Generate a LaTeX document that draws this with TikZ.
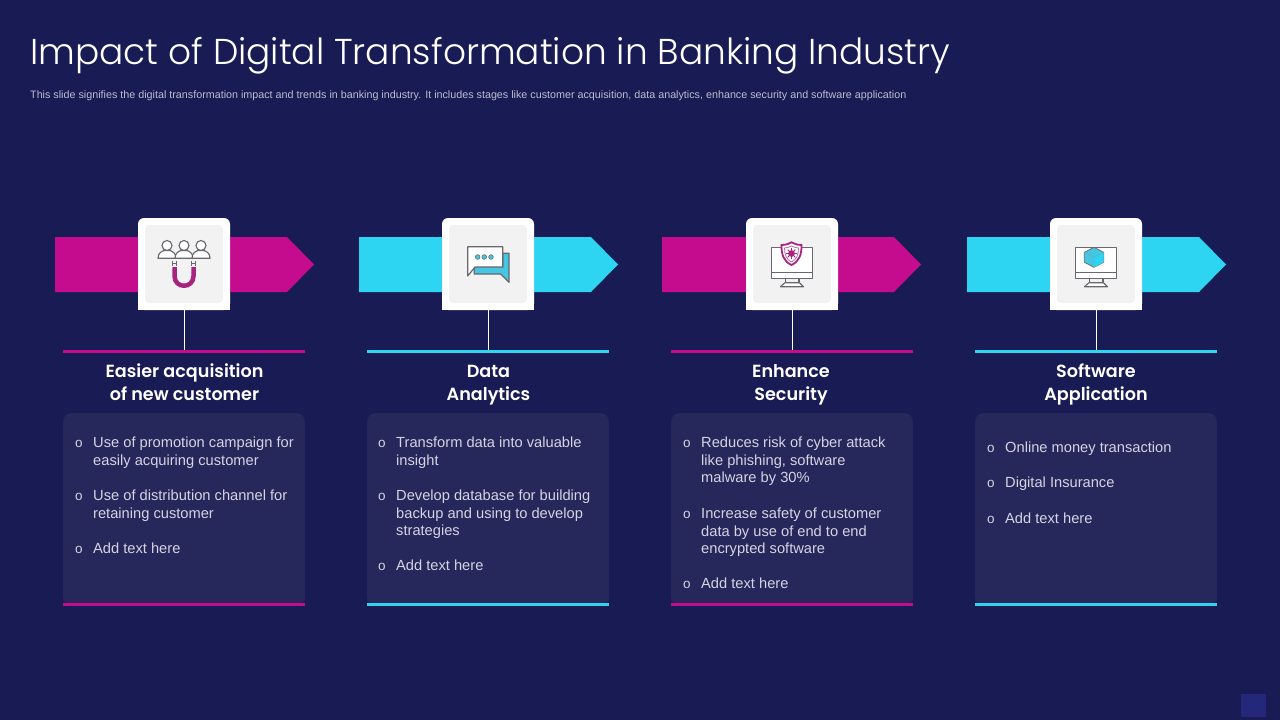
\documentclass[tikz,border=0pt]{standalone}
\usepackage{fontspec}
\setmainfont{Liberation Sans}
\newfontfamily\titlefont{Poppins Light}
\newfontfamily\headfont{Poppins SemiBold}
\usetikzlibrary{calc}
\definecolor{bg}{HTML}{181B54}
\definecolor{panel}{HTML}{26275A}
\definecolor{pink}{HTML}{C60C8E}
\definecolor{cyan}{HTML}{2DD5F2}
\definecolor{cyanicon}{HTML}{45C6E2}
\definecolor{gline}{HTML}{68686E}
\definecolor{mag}{HTML}{A6247F}
\definecolor{bodytxt}{HTML}{D4D4E3}
\definecolor{subtxt}{HTML}{BDBDD0}
\definecolor{corner}{HTML}{25277A}
\tikzset{
  cardbox/.style={fill=white,rounded corners=6pt,minimum width=92pt,minimum height=92pt,inner sep=0pt},
  innerbox/.style={fill=black!5,rounded corners=4pt,minimum width=78pt,minimum height=78pt,inner sep=0pt},
  rulebar/.style={minimum width=242pt,minimum height=3pt,inner sep=0pt},
  panelbox/.style={fill=panel,rounded corners=9pt,minimum width=242pt,minimum height=193pt,inner sep=0pt},
  heading/.style={font=\headfont\fontsize{17.6}{23}\selectfont,text=white,align=center,inner sep=0pt,anchor=north},
  bodytext/.style={font=\fontsize{14.67}{17.85}\selectfont,text=bodytxt,align=left,inner sep=0pt,anchor=north west},
  bulletmark/.style={font=\fontsize{13.5}{15}\selectfont,text=bodytxt,inner sep=0pt,anchor=base west},
  icon/.style={draw=gline,line width=1.15pt,line join=round},
}
\newcommand{\colbase}[4]{% id, card offset, arrow left, colour
  \fill[#4] (#3,237) -- (#3+232,237) -- (#3+259,264.5) -- (#3+232,292) -- (#3,292) -- cycle;
  \node[cardbox] (card#1) at (184+#2,264) {};
  \fill[white] (138+#2,264) rectangle (230+#2,310);
  \node[innerbox] (inner#1) at (184+#2,264) {};
  \node[rulebar,fill=#4] (rule#1) at (184+#2,351.5) {};
  \draw[white,line width=.8pt] (card#1.south) -- (rule#1.north);
  \node[panelbox] (panel#1) at (184+#2,509.5) {};
  \fill[#4] (63+#2,603) rectangle (305+#2,606);
}
\newcommand{\itm}[5]{% id, bullet x, text x, baseline, text
  \node[bulletmark] (b#1) at (#2,#4) {o};
  \node[bodytext] (t#1) at (#3,#4-11) {\rule{0pt}{11pt}#5};
}
\begin{document}
\begin{tikzpicture}[x=1pt,y=-1pt]
\useasboundingbox (0,0) rectangle (1280,720);
\fill[bg] (0,0) rectangle (1280,720);
\node[font=\titlefont\fontsize{35.95}{40}\selectfont,text=white,anchor=base west,inner sep=0pt] (title) at (30,64) {Impact of Digital Transformation in Banking Industry};
\node[font=\fontsize{10.75}{12}\selectfont,text=subtxt,anchor=base west,inner sep=0pt] (subtitle) at (30,98) {This slide signifies the digital transformation impact and trends in banking industry. It includes stages like customer acquisition, data analytics, enhance security and software application};
\fill[corner] (1241,694) rectangle (1266,717);

\colbase{1}{0}{55}{pink}
\colbase{2}{304}{359}{cyan}
\colbase{3}{608}{662}{pink}
\colbase{4}{912}{967}{cyan}

\node[heading] (h1) at (184.5,361) {\rule{0pt}{16pt}Easier acquisition\\of new customer};
\node[heading] (h2) at (488.5,361) {\rule{0pt}{16pt}Data\\Analytics};
\node[heading] (h3) at (791,361) {\rule{0pt}{16pt}Enhance\\Security};
\node[heading] (h4) at (1096,361) {\rule{0pt}{16pt}Software\\Application};

\itm{a}{75}{93}{447}{Use of promotion campaign for\\easily acquiring customer}
\itm{b}{75}{93}{500}{Use of distribution channel for\\retaining customer}
\itm{c}{75}{93}{553}{Add text here}
\itm{d}{378}{396}{447}{Transform data into valuable\\insight}
\itm{e}{378}{396}{500}{Develop database for building\\backup and using to develop\\strategies}
\itm{f}{378}{396}{570}{Add text here}
\itm{g}{683}{701}{447}{Reduces risk of cyber attack\\like phishing, software\\malware by 30\%}
\itm{h}{683}{701}{518}{Increase safety of customer\\data by use of end to end\\encrypted software}
\itm{i}{683}{701}{588}{Add text here}
\itm{j}{987}{1005}{452}{Online money transaction}
\itm{k}{987}{1005}{487}{Digital Insurance}
\itm{l}{987}{1005}{523}{Add text here}

% icon 1: people and magnet
\foreach \cx in {167,184,201}{
  \draw[icon,fill=white] (\cx-9,258.3) .. controls (\cx-9,252.5) and (\cx-5,251.5) .. (\cx-3,250.5) -- (\cx+3,250.5) .. controls (\cx+5,251.5) and (\cx+9,252.5) .. (\cx+9,258.3) -- cycle;
  \draw[icon,fill=white] (\cx,245.5) circle (5);
}
\draw[mag,line width=4.5pt] (174.5,267) -- (174.5,276) .. controls (174.5,289) and (193.5,289) .. (193.5,276) -- (193.5,267);
\draw[gline,line width=.8pt] (172.5,260.5) -- (172.5,266) (176.5,260.5) -- (176.5,266) (191.5,260.5) -- (191.5,266) (195.5,260.5) -- (195.5,266) (172,263) -- (177,263) (191,263) -- (196,263);

% icon 2: chat bubbles
\draw[icon,fill=cyanicon,line width=1.2pt] (474.3,266.7) -- (474.3,274) -- (500.7,274) -- (509,282.3) -- (509,253.3) -- (502.7,253.3) -- (502.7,266.7) -- cycle;
\draw[icon,fill=white,line width=1.2pt] (467.7,246.7) -- (502.7,246.7) -- (502.7,267) -- (475,267) -- (467.7,276) -- cycle;
\foreach \cx in {477.7,484.3,491}{\draw[gline,fill=cyanicon,line width=.6pt] (\cx,257) circle (2.3);}

% icons 3, 4: monitors
\foreach \ox in {0,304}{
  \begin{scope}[xshift=\ox pt]
  \draw[icon,fill=white] (771.3,247.3) rectangle (812.7,278.3);
  \draw[icon] (771.3,272.7) -- (812.7,272.7);
  \draw[icon] (785.7,278.3) -- (785.7,282.7) (799,278.3) -- (799,282.7);
  \draw[icon,fill=white] (785,282.7) -- (799.5,282.7) -- (803.5,286.7) -- (780.5,286.7) -- cycle;
  \end{scope}
}
% shield with virus
\draw[mag,fill=white,line width=1.8pt] (791.5,242.3) .. controls (786,245) and (784,245) .. (781.5,245) .. controls (781.3,255) and (784,261.5) .. (791.5,265) .. controls (799,261.5) and (801.7,255) .. (801.5,245) .. controls (799,245) and (797,245) .. (791.5,242.3) -- cycle;
\draw[mag!70!white,line width=.8pt] (791.5,246) .. controls (788,247.5) and (786,248) .. (784.5,248) .. controls (784.5,255) and (786.5,259.5) .. (791.5,262) .. controls (796.5,259.5) and (798.5,255) .. (798.5,248) .. controls (797,248) and (795,247.5) .. (791.5,246) -- cycle;
\fill[mag] (791.5,253.5) circle (3.4);
\foreach \a in {0,45,...,315}{\draw[mag,line width=.9pt] (791.5,253.5) -- ++(\a:5.4);}

% cube
\draw[gline,line width=.7pt,fill=cyanicon] (1094,247.3) -- (1103.7,252.3) -- (1103.7,262.3) -- (1094,267.3) -- (1084.3,262.3) -- (1084.3,252.3) -- cycle;
\fill[cyan] (1094,257.3) -- (1103.7,252.3) -- (1103.7,262.3) -- (1094,267.3) -- cycle;
\draw[cyanicon!70!gray,line width=.4pt] (1084.3,252.3) -- (1094,257.3) -- (1103.7,252.3) (1094,257.3) -- (1094,267.3);
\end{tikzpicture}
\end{document}
